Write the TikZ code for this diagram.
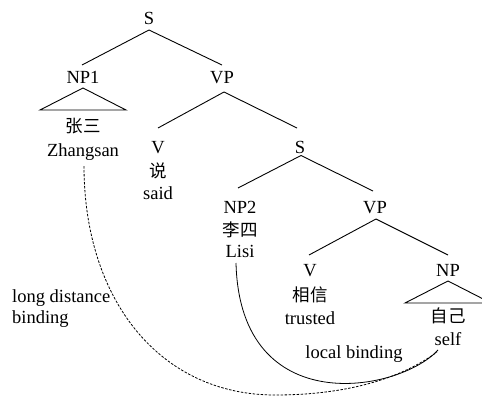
\documentclass[tikz,border=0pt]{standalone}
\usepackage{fontspec}
\setmainfont{Liberation Serif}
\newfontfamily\cjk{Noto Sans CJK SC}
\begin{document}
\begin{tikzpicture}[x=1pt,y=-1pt,
  lab/.style={anchor=base,inner sep=0pt,font=\fontsize{18.5}{22}\selectfont},
  zh/.style={anchor=base,inner sep=0pt,font=\fontsize{17.5}{22}\selectfont\cjk},
  edge/.style={line width=0.9pt},
  bind/.style={line width=0.8pt},
  ldbind/.style={line width=0.8pt,dash pattern=on 2.5pt off 1.5pt}]
\useasboundingbox (0,0) rectangle (482,399);
% labels
\node[lab] (S) at (149,24) {S};
\node[lab] (NP1) at (83,83) {NP1};
\node[lab] (VP) at (222,83) {VP};
\node[zh] (zs) at (83,132) {张三};
\node[lab] (Zh) at (83,156) {Zhangsan};
\node[lab] (V) at (158,153) {V};
\node[zh] (shuo) at (158,177) {说};
\node[lab] (said) at (158,199) {said};
\node[lab] (S2) at (300,153) {S};
\node[lab] (NP2) at (240,213) {NP2};
\node[zh] (ls) at (240,236) {李四};
\node[lab] (Lisi) at (240,257) {Lisi};
\node[lab] (VP2) at (375,213) {VP};
\node[lab] (V2) at (310,276) {V};
\node[zh] (xx) at (310,301) {相信};
\node[lab] (trusted) at (310,324) {trusted};
\node[lab] (NP) at (448,276) {NP};
\node[zh] (zj) at (448,322) {自己};
\node[lab] (self) at (448,345) {self};
\node[lab] (local) at (354,358) {local binding};
\node[lab,anchor=base west] (ld) at (12,302) {long distance};
\node[lab,anchor=base west] (bd) at (12,323) {binding};
% tree edges
\draw[edge] ([yshift=-6pt]S.base) -- ([xshift=-1pt,yshift=18pt]NP1.base);
\draw[edge] ([yshift=-6pt]S.base) -- ([yshift=18pt]VP.base);
\draw[edge] ([xshift=2pt,yshift=-9pt]VP.base) -- ([yshift=25pt]V.base);
\draw[edge] ([xshift=2pt,yshift=-9pt]VP.base) -- ([xshift=-3pt,yshift=25pt]S2.base);
\draw[edge] ([xshift=1pt,yshift=-2.5pt]S2.base) -- ([xshift=-2pt,yshift=25pt]NP2.base);
\draw[edge] ([xshift=1pt,yshift=-2.5pt]S2.base) -- ([xshift=-2pt,yshift=22pt]VP2.base);
\draw[edge] ([xshift=1pt,yshift=-6pt]VP2.base) -- ([xshift=-1pt,yshift=21pt]V2.base);
\draw[edge] ([xshift=1pt,yshift=-6pt]VP2.base) -- ([yshift=21pt]NP.base);
% triangles
\draw[edge] ([yshift=-5pt]NP1.base) -- ++(-43,22) -- ++(86,0) -- cycle;
\draw[edge] ([yshift=-5pt]NP.base) -- ++(-43,22) -- ++(86,0) -- cycle;
% binding curves
\draw[bind] ([xshift=-4pt,yshift=-6pt]Lisi.base) .. controls (240,422) and (400,392) .. ([xshift=-10pt,yshift=-5pt]self.base);
\draw[ldbind] ([xshift=1pt,yshift=-10pt]Zh.base) .. controls (84,300) and (160,395) .. (275,395) .. controls (360,395) and (410,372) .. ([xshift=-11pt,yshift=-7pt]self.base);
\end{tikzpicture}
\end{document}
